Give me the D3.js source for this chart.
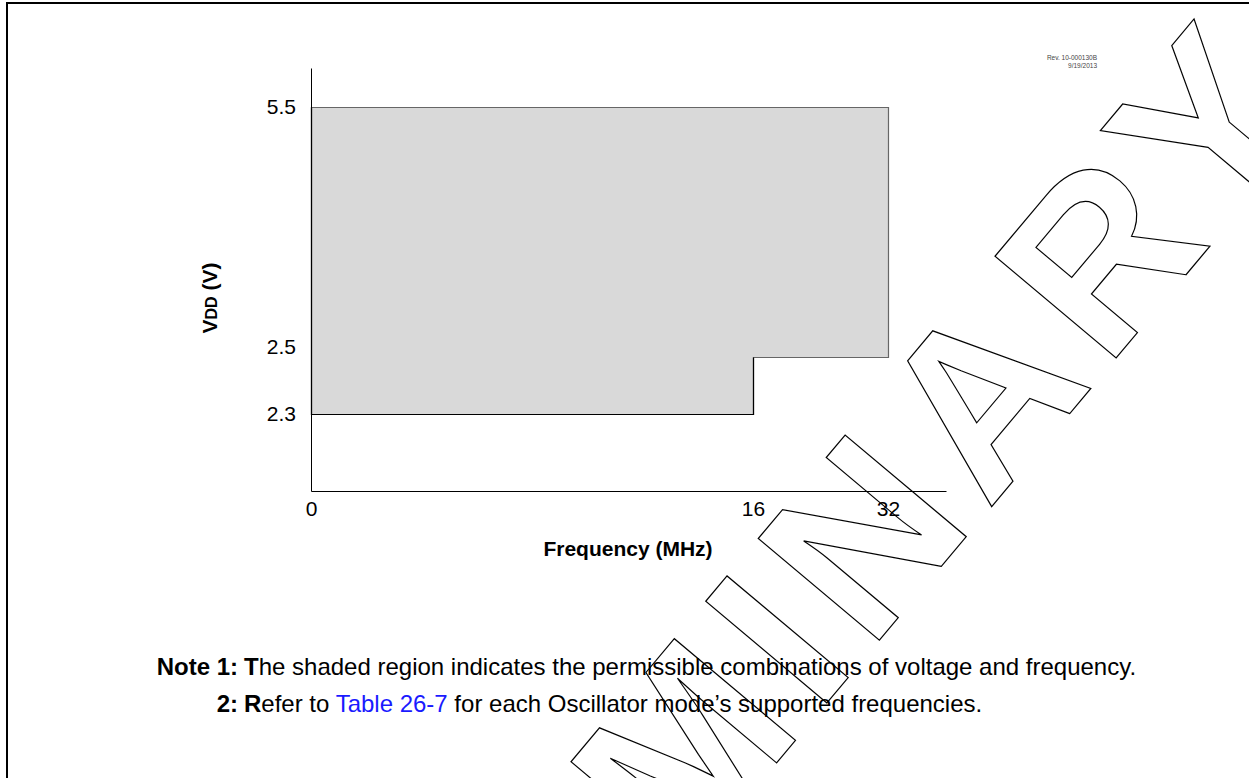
<!DOCTYPE html>
<html>
<head>
<meta charset="utf-8">
<script src="https://cdn.jsdelivr.net/npm/d3@7"></script>
<style>
  body { margin: 0; background: #fff; }
  svg { display: block; font-family: "Liberation Sans", Arial, sans-serif; }
  .axis text { font-size: 21px; fill: #000; }
  .axis path { stroke: #000; }
  .axisLabel { font-size: 21px; font-weight: bold; }
  .note { font-size: 24px; }
</style>
</head>
<body>
<script>
// operating region: VDD vs frequency
var freqTicks = [0, 16, 32];
var vddTicks = [2.3, 2.5, 5.5];
// corners of the shaded region [MHz, V]
var regionFreq = [0, 16, 16, 32, 32, 0];
var regionVdd = [2.3, 2.3, 2.5, 2.5, 5.5, 5.5];
var revLines = ["Rev. 10-000130B", "9/19/2013"];
var watermark = "PRELIMINARY";

window.onload = function() {
  var totalWidth = 1249;
  var totalHeight = 778;

  var svg = d3.select("body")
              .append("svg")
              .attr("width", totalWidth)
              .attr("height", totalHeight);

  // frame (top and left edges only)
  svg.append("line")
     .attr("x1", 6).attr("x2", totalWidth)
     .attr("y1", 3).attr("y2", 3)
     .attr("stroke", "#000").attr("stroke-width", 2);
  svg.append("line")
     .attr("x1", 7).attr("x2", 7)
     .attr("y1", 2).attr("y2", totalHeight)
     .attr("stroke", "#000").attr("stroke-width", 2);

  // the axes are schematic, so the scales are piecewise
  var xScale = d3.scaleLinear()
                 .domain([0, 16, 32, 38.9])
                 .range([311, 753, 888, 946]);
  var yScale = d3.scaleLinear()
                 .domain([2.03, 2.3, 2.5, 5.5, 5.97])
                 .range([491, 414, 357, 107, 68]);

  // shaded region
  var pts = regionFreq.map(function(f, i) {
    return [xScale(f) + 0.5, yScale(regionVdd[i]) + 0.5];
  });
  svg.append("polygon")
     .attr("points", pts.map(function(p) { return p.join(","); }).join(" "))
     .attr("fill", "#d9d9d9")
     .attr("stroke", "#666")
     .attr("stroke-width", 1.2);
  // darker lower edge
  svg.append("path")
     .attr("d", d3.line()([pts[5], pts[0], pts[1], pts[2]]))
     .attr("fill", "none")
     .attr("stroke", "#000")
     .attr("stroke-width", 1.2);

  var xAxis = d3.axisBottom(xScale)
                .tickValues(freqTicks)
                .tickSize(0)
                .tickPadding(10)
                .tickFormat(d3.format("d"));
  var yAxis = d3.axisLeft(yScale)
                .tickValues(vddTicks)
                .tickSize(0)
                .tickPadding(15)
                .tickFormat(d3.format(".1f"));

  svg.append("g")
     .attr("class", "axis")
     .attr("transform", "translate(0,491)")
     .call(xAxis);

  var gy = svg.append("g")
     .attr("class", "axis")
     .attr("transform", "translate(311,0)")
     .call(yAxis);
  // 2.5 label sits a little above its line
  gy.selectAll(".tick text")
    .filter(function(d) { return d === 2.5; })
    .attr("dy", "-0.15em");

  svg.selectAll("g.axis").attr("font-family", null).attr("font-size", null);

  // axis titles
  svg.append("text")
     .attr("class", "axisLabel")
     .attr("x", 628)
     .attr("y", 556)
     .attr("text-anchor", "middle")
     .text("Frequency (MHz)");

  var yt = svg.append("text")
     .attr("class", "axisLabel")
     .attr("transform", "translate(217,298) rotate(-90)")
     .attr("text-anchor", "middle");
  yt.append("tspan").text("V");
  yt.append("tspan").style("font-size", "16px").text("DD");
  yt.append("tspan").text(" (V)");

  // revision stamp
  svg.selectAll(".rev")
     .data(revLines)
     .enter()
     .append("text")
     .attr("class", "rev")
     .attr("x", 1097)
     .attr("y", function(d, i) { return 60 + i * 8; })
     .attr("text-anchor", "end")
     .attr("font-size", "6.5px")
     .attr("fill", "#444")
     .text(function(d) { return d; });

  // notes
  svg.append("text").attr("class", "note")
     .attr("x", 238).attr("y", 675)
     .attr("text-anchor", "end")
     .attr("font-weight", "bold")
     .text("Note 1:");
  var n1 = svg.append("text").attr("class", "note")
     .attr("x", 244).attr("y", 675);
  n1.append("tspan").attr("font-weight", "bold").text("T");
  n1.append("tspan").text("he shaded region indicates the permissible combinations of voltage and frequency.");

  svg.append("text").attr("class", "note")
     .attr("x", 238).attr("y", 712)
     .attr("text-anchor", "end")
     .attr("font-weight", "bold")
     .text("2:");
  var n2 = svg.append("text").attr("class", "note")
     .attr("x", 244).attr("y", 712);
  n2.append("tspan").attr("font-weight", "bold").text("R");
  n2.append("tspan").text("efer to ");
  n2.append("tspan").attr("fill", "#1a1aff").text("Table 26-7");
  n2.append("tspan").text(" for each Oscillator mode\u2019s supported frequencies.");

  // outlined watermark
  svg.append("text")
     .attr("transform", "translate(189,1463) rotate(-50)")
     .attr("font-size", "230px")
     .attr("font-weight", "bold")
     .attr("letter-spacing", "18px")
     .attr("fill", "none")
     .attr("stroke", "#000")
     .attr("stroke-width", 1.2)
     .text(watermark);
};
</script>
</body>
</html>
